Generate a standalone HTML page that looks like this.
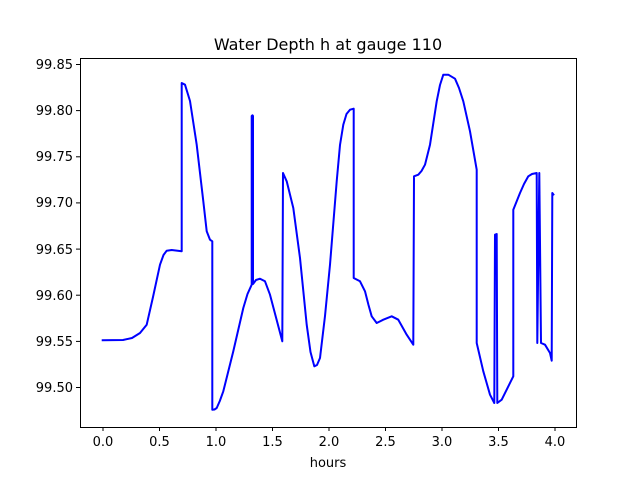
<!DOCTYPE html>
<html><head><meta charset="utf-8"><style>
html,body{margin:0;padding:0;background:#fff;}
svg text{font-family:"DejaVu Sans","Liberation Sans",sans-serif;fill:#000;}
</style></head><body>
<svg width="640" height="480" viewBox="0 0 640 480" xmlns="http://www.w3.org/2000/svg">
<rect width="640" height="480" fill="#fff"/>
<text x="328" y="50" font-size="16" text-anchor="middle">Water Depth h at gauge 110</text>
<polyline fill="none" stroke="#0000ff" stroke-width="2" stroke-linejoin="round" points="
101.7,340.3 123,340 132,338 140,333 146.7,324.7 153,297 160,264.7 163.5,255 166.7,250.7 171.7,250 181.7,251.3 181.7,83 185,84.7 190,101 196.7,144.7 203.3,201.3 206.7,231.3 210,239.7 212.3,241.3 212.3,409.7 214.5,409.5 216.7,408 219.8,401 223.3,391.3 233.3,351.3 243.3,308 247.5,294 251.7,284.7 251.7,116 252.5,115.3 253,116 253,284 256,280 260,278.7 265,281.3 270,294.7 282.3,341.3 283,173 286.7,181.3 293.3,208 300,258 306.7,324.7 310.5,352 314.3,366.3 317,365 320,358 325,316 330,264.7 336.7,181.3 340,145 343.3,124.7 346.5,114 350,109.7 353.7,108.7 353.7,278 360,281.3 365,291.3 368.5,305 371.7,316.3 376.7,323 383.3,319.7 391.7,316.3 398.3,319.7 406.7,334.7 413.3,344.7 414,176.3 418.3,174.7 421.5,171 425,164.7 430,144.7 436.7,101.3 440,85 443.3,74.7 448.3,74.7 455,78.7 459,88 463.3,101.3 470,131.3 476.7,169.7 476.7,343 483.3,371.3 490,394.7 494.3,403 495,234.7 496.7,234 497.3,403 501.7,399.7 513.3,376.3 513.3,209.7 520,193 524,184 528.3,176.3 532,174 536.7,173 537.3,343 539.3,173 541,343 545,344.7 550,353 551.7,360.7 552.3,193 554,195.3"/>
<rect x="80.5" y="58.5" width="496" height="369" fill="none" stroke="#000" stroke-width="1"/>
<g stroke="#000" stroke-width="1">
<line x1="103" y1="427" x2="103" y2="431"/><line x1="159.5" y1="427" x2="159.5" y2="431"/><line x1="216" y1="427" x2="216" y2="431"/><line x1="272.5" y1="427" x2="272.5" y2="431"/><line x1="329" y1="427" x2="329" y2="431"/><line x1="385.5" y1="427" x2="385.5" y2="431"/><line x1="442" y1="427" x2="442" y2="431"/><line x1="498.5" y1="427" x2="498.5" y2="431"/><line x1="555" y1="427" x2="555" y2="431"/>
<line x1="76" y1="64.5" x2="80" y2="64.5"/><line x1="76" y1="110.6" x2="80" y2="110.6"/><line x1="76" y1="156.8" x2="80" y2="156.8"/><line x1="76" y1="202.9" x2="80" y2="202.9"/><line x1="76" y1="249.1" x2="80" y2="249.1"/><line x1="76" y1="295.2" x2="80" y2="295.2"/><line x1="76" y1="341.4" x2="80" y2="341.4"/><line x1="76" y1="387.5" x2="80" y2="387.5"/>
</g>
<g font-size="13" text-anchor="middle">
<text x="103" y="446">0.0</text><text x="159.5" y="446">0.5</text><text x="216" y="446">1.0</text><text x="272.5" y="446">1.5</text><text x="329" y="446">2.0</text><text x="385.5" y="446">2.5</text><text x="442" y="446">3.0</text><text x="498.5" y="446">3.5</text><text x="555" y="446">4.0</text>
<text x="328" y="467">hours</text>
</g>
<g font-size="13" text-anchor="end">
<text x="73" y="69">99.85</text><text x="73" y="115">99.80</text><text x="73" y="161">99.75</text><text x="73" y="207">99.70</text><text x="73" y="254">99.65</text><text x="73" y="300">99.60</text><text x="73" y="346">99.55</text><text x="73" y="392">99.50</text>
</g>
</svg>
</body></html>
